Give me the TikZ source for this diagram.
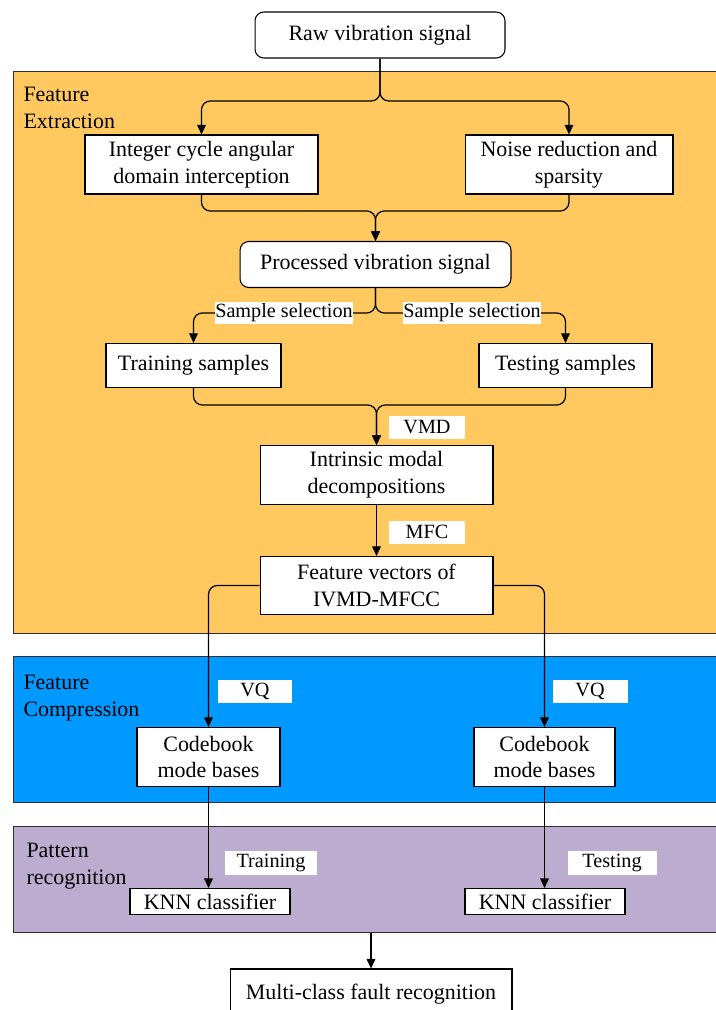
\documentclass[tikz,border=0pt]{standalone}
\usepackage{fontspec}
\setmainfont{Liberation Serif}
\usepackage{tikz}
\usetikzlibrary{arrows.meta,positioning,calc}
\definecolor{fxOrange}{HTML}{FFC95F}
\definecolor{fxBlue}{HTML}{0099FF}
\definecolor{fxPurple}{HTML}{BCADD0}
\definecolor{fxBorder}{HTML}{303030}
\tikzset{
    every picture/.style={
        font=\fontsize{12.5}{15.3}\selectfont,
        line width=0.6pt
    },
    % boxes of the pipeline
    stage/.style={rectangle,draw=black,fill=white,line width=0.6pt,align=center,inner sep=2pt},
    rstage/.style={stage,rounded corners=5pt},
    lbl/.style={rectangle,fill=white,inner sep=0pt,minimum height=0.46cm,align=center,font=\fontsize{11.5}{13}\selectfont},
    % coloured bands and their titles
    region/.style={rectangle,draw=fxBorder,line width=0.6pt,anchor=north west,minimum width=14.3cm},
    zone/.style={anchor=north west,align=left,inner sep=0pt},
    flow/.style={-{Triangle[length=5.5pt,width=5pt]},line width=0.7pt,black,rounded corners=5pt}
}

\begin{document}
\begin{tikzpicture}[x=0.02cm,y=-0.02cm]
  \useasboundingbox (0,0) rectangle (716,1010);

  % Three bands
  \node[region,fill=fxOrange,minimum height=11.24cm] (extract) at (13,71) {};
  \node[region,fill=fxBlue,minimum height=2.92cm] (compress) at (13,656) {};
  \node[region,fill=fxPurple,minimum height=2.12cm] (recog) at (13,826) {};
  \node[zone] (extractlbl) at (23,87) {Feature\\Extraction};
  \node[zone] (compresslbl) at (23,675) {Feature\\Compression};
  \node[zone] (recoglbl) at (26,843) {Pattern\\recognition};

  % Pipeline boxes
  \node[rstage,minimum width=5cm,minimum height=0.92cm] (raw) at (380,35) {Raw vibration signal};
  \node[stage,minimum width=4.66cm,minimum height=1.18cm] (intc) at (201.5,164.5) {Integer cycle angular\\domain interception};
  \node[stage,minimum width=4.16cm,minimum height=1.18cm] (noise) at (569,164.5) {Noise reduction and\\sparsity};
  \node[rstage,minimum width=5.42cm,minimum height=0.92cm] (proc) at (375.5,264.5) {Processed vibration signal};
  \node[stage,minimum width=3.5cm,minimum height=0.88cm] (train) at (193.5,365.5) {Training samples};
  \node[stage,minimum width=3.46cm,minimum height=0.88cm] (test) at (565.5,365.5) {Testing samples};
  \node[stage,minimum width=4.66cm,minimum height=1.18cm] (imf) at (376.5,475) {Intrinsic modal\\decompositions};
  \node[stage,minimum width=4.66cm,minimum height=1.16cm] (fv) at (376.5,585.5) {Feature vectors of\\IVMD-MFCC};
  \node[stage,minimum width=2.86cm,minimum height=1.18cm] (cb1) at (208.5,757) {Codebook\\mode bases};
  \node[stage,minimum width=2.82cm,minimum height=1.18cm] (cb2) at (544.5,757) {Codebook\\mode bases};
  \node[stage,minimum width=3.2cm,minimum height=0.52cm] (knn1) at (210,901.5) {KNN classifier};
  \node[stage,minimum width=3.2cm,minimum height=0.52cm] (knn2) at (545,901.5) {KNN classifier};
  \node[stage,minimum width=5.64cm,minimum height=1cm] (mcf) at (371,994) {Multi-class fault recognition};

  % Junctions
  \coordinate (split) at (380,101);
  \coordinate (join) at (375.5,211);
  \coordinate (sel) at (375.5,313);
  \coordinate (join2) at (376.5,405);

  % Connectors
  \draw[flow] (raw.south) -- (split) -| (intc.north);
  \draw[flow] (raw.south) -- (split) -| (noise.north);
  \draw[flow] (intc.south) |- (join) -- (proc.north);
  \draw[flow] (noise.south) |- (join) -- (proc.north);
  \draw[flow] (proc.south) -- (sel) -| (train.north);
  \draw[flow] (proc.south) -- (sel) -| (test.north);
  \draw[flow] (train.south) |- (join2) -- (imf.north);
  \draw[flow] (test.south) |- (join2) -- (imf.north);
  \draw[flow] (imf) -- (fv);
  \draw[flow] (fv.west) -| (cb1.north);
  \draw[flow] (fv.east) -| (cb2.north);
  \draw[flow] (cb1.south) -- (cb1.south |- knn1.north);
  \draw[flow] (cb2.south) -- (cb2.south |- knn2.north);
  \draw[flow] (recog.south -| mcf.north) -- (mcf.north);

  % Step labels on top of the lines
  \node[lbl,minimum width=2.72cm] (sel1) at (284,313) {Sample selection};
  \node[lbl,minimum width=2.72cm] (sel2) at (472,313) {Sample selection};
  \node[lbl,minimum width=1.52cm] (vmd) at (427,427) {VMD};
  \node[lbl,minimum width=1.52cm] (mfc) at (427,532) {MFC};
  \node[lbl,minimum width=1.5cm] (vq1) at (255,691) {VQ};
  \node[lbl,minimum width=1.5cm] (vq2) at (590,691) {VQ};
  \node[lbl,minimum width=1.84cm,minimum height=0.48cm] (trn) at (271,863) {Training};
  \node[lbl,minimum width=1.78cm,minimum height=0.48cm] (tst) at (612,863) {Testing};
\end{tikzpicture}
\end{document}
